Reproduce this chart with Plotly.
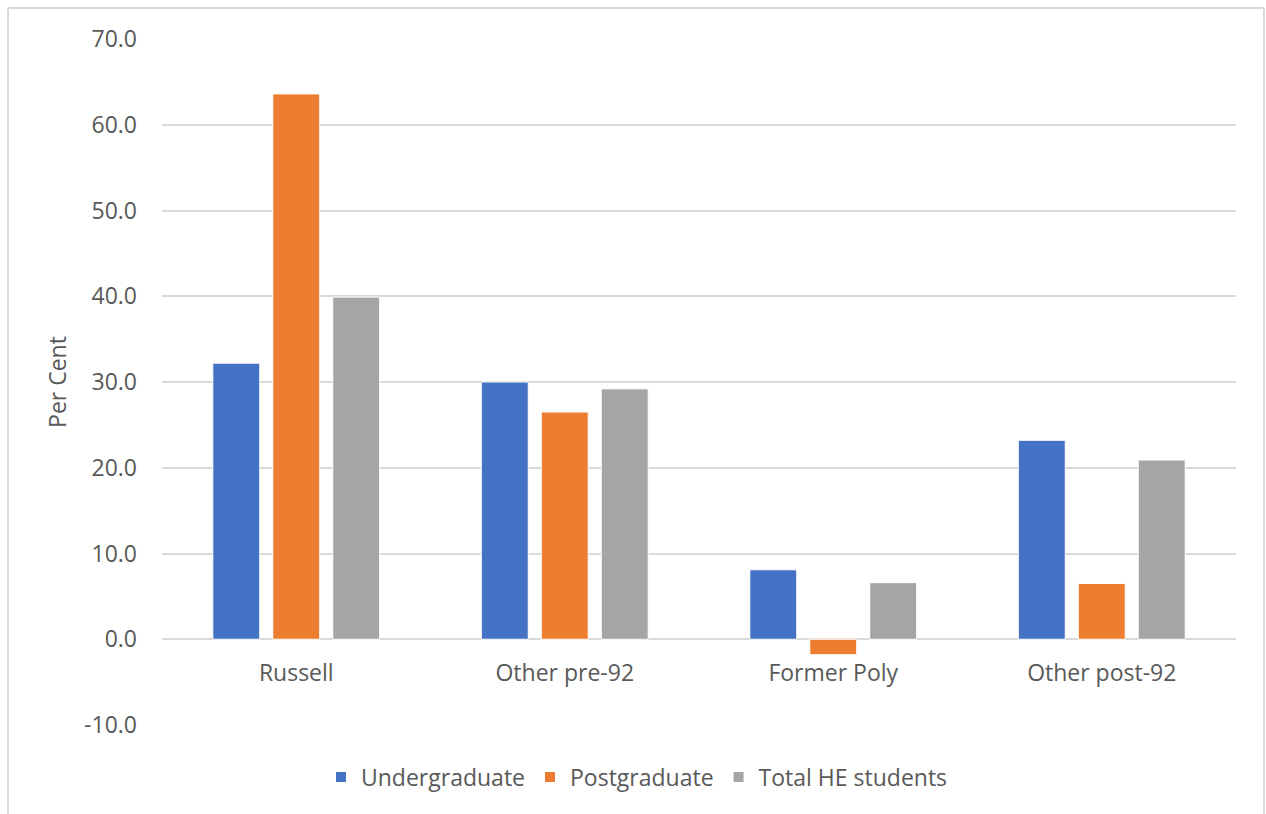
import plotly.graph_objects as go

# Change by institution group (per cent)
categories = ["Russell", "Other pre-92", "Former Poly", "Other post-92"]
undergraduate = [32.2, 30.0, 8.1, 23.2]
postgraduate = [63.6, 26.5, -1.8, 6.5]
total_he = [39.9, 29.2, 6.6, 20.9]
y_ticks = [-10, 0, 10, 20, 30, 40, 50, 60, 70]
y_tick_labels = ["-10.0", "0.0", "10.0", "20.0", "30.0", "40.0", "50.0", "60.0", "70.0"]
y_min, y_max = -10, 70

FONT = "Open Sans"
TEXT = "#595959"
GRID = "#d9d9d9"
FS = 23

fig = go.Figure()
for name, vals, color in [
    ("Undergraduate", undergraduate, "#4472C4"),
    ("Postgraduate", postgraduate, "#ED7D31"),
    ("Total HE students", total_he, "#A5A5A5"),
]:
    fig.add_trace(go.Bar(
        x=categories, y=vals, name=name,
        marker=dict(color=color, line=dict(color="white", width=1)),
    ))

# Outer chart frame
L, R, T, B = 162, 30, 39, 89
W, H = 1266, 814
pw, ph = W - L - R, H - T - B
def px(x):
    return (x - L) / pw
def py(y):
    return (H - B - y) / ph

frame = dict(type="line", xref="paper", yref="paper", line=dict(color=GRID, width=2), layer="below")
shapes = [
    dict(frame, x0=px(8), x1=px(1264), y0=py(8), y1=py(8)),
    dict(frame, x0=px(8), x1=px(8), y0=py(8), y1=py(820)),
    dict(frame, x0=px(1264), x1=px(1264), y0=py(8), y1=py(820)),
]

fig.update_layout(
    width=W, height=H,
    margin=dict(l=L, r=R, t=T, b=B),
    paper_bgcolor="white", plot_bgcolor="white",
    barmode="group", bargap=0.33, bargroupgap=0.217,
    font=dict(family=FONT, color=TEXT, size=FS),
    shapes=shapes,
    showlegend=True,
    legend=dict(
        orientation="h", x=px(637), xanchor="center", y=py(777), yanchor="middle",
        font=dict(size=FS, color=TEXT), traceorder="normal",
        itemwidth=30, itemsizing="constant",
    ),
    # category axis crosses the value axis at zero
    xaxis=dict(
        showgrid=False, showline=False, zeroline=False,
        anchor="free", position=(0 - y_min) / (y_max - y_min),
        ticks="", tickfont=dict(size=FS, color=TEXT), ticklabelstandoff=18,
    ),
    yaxis=dict(
        range=[y_min, y_max], tickvals=y_ticks, ticktext=y_tick_labels,
        showgrid=True, gridcolor=GRID, gridwidth=1.5,
        zeroline=True, zerolinecolor=GRID, zerolinewidth=1.5,
        showline=False, ticks="", ticklabelstandoff=24,
        tickfont=dict(size=FS, color=TEXT),
        title=dict(text="Per Cent", font=dict(size=FS, color=TEXT), standoff=11),
    ),
)

fig.write_html("out.html")
